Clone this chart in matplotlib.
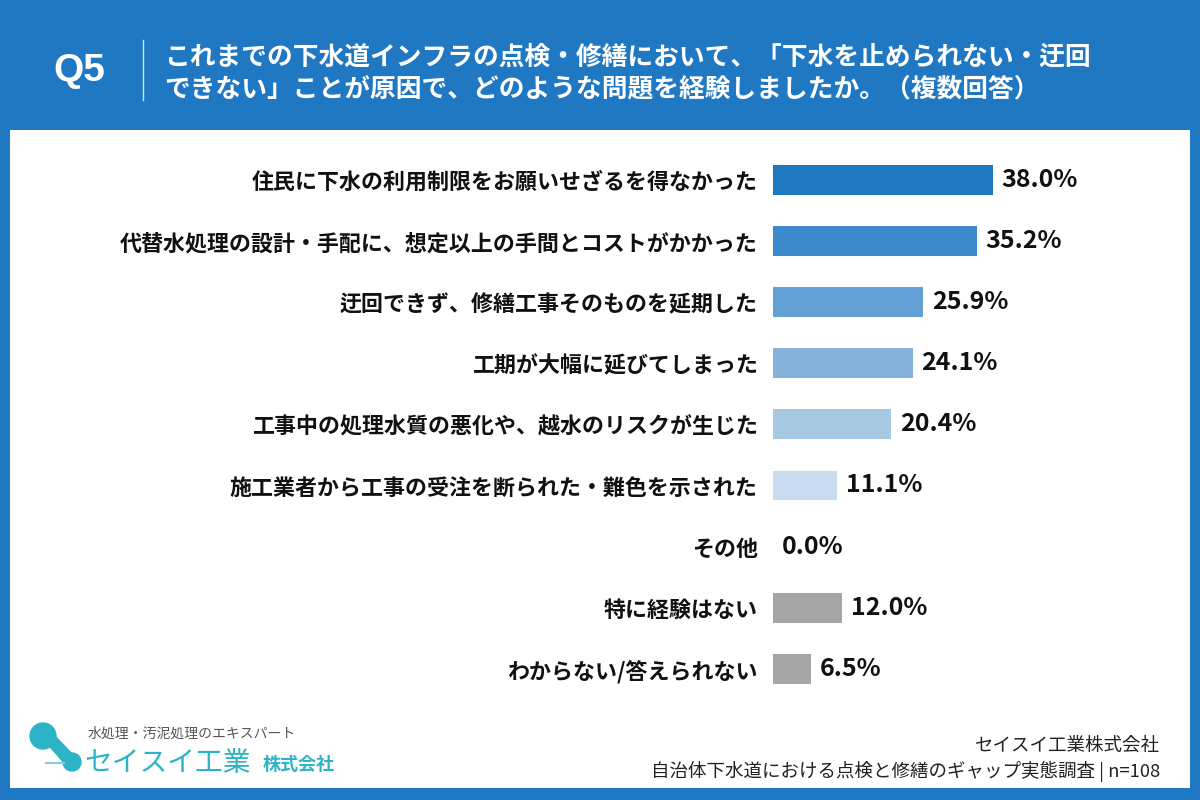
import matplotlib.pyplot as plt
from matplotlib.patches import Rectangle, Circle, Polygon

plt.rcParams['font.family'] = ['Noto Sans CJK JP', 'DejaVu Sans']

# ---- data ----
labels = [
    "住民に下水の利用制限をお願いせざるを得なかった",
    "代替水処理の設計・手配に、想定以上の手間とコストがかかった",
    "迂回できず、修繕工事そのものを延期した",
    "工期が大幅に延びてしまった",
    "工事中の処理水質の悪化や、越水のリスクが生じた",
    "施工業者から工事の受注を断られた・難色を示された",
    "その他",
    "特に経験はない",
    "わからない/答えられない",
]
values = [38.0, 35.2, 25.9, 24.1, 20.4, 11.1, 0.0, 12.0, 6.5]
bar_colors = ["#1f77c0", "#3d8bcd", "#62a0d5", "#86b3dc", "#a7c9e2",
              "#c9dcef", "#a6a6a6", "#a6a6a6", "#a6a6a6"]

title_lines = ["これまでの下水道インフラの点検・修繕において、「下水を止められない・迂回",
               "できない」ことが原因で、どのような問題を経験しましたか。（複数回答）"]
source_lines = ["セイスイ工業株式会社",
                "自治体下水道における点検と修繕のギャップ実態調査 | n=108"]

BLUE = "#1f78c1"
TEAL = "#2cb4c6"

fig = plt.figure(figsize=(12, 8), dpi=100)
fig.patch.set_facecolor(BLUE)

W, H = 1200, 800
def fx(px): return px / W
def fy(py): return 1 - py / H

# white panel
fig.patches.append(Rectangle((fx(10), fy(788)), fx(1180), (788 - 130) / H,
                             transform=fig.transFigure, facecolor="white",
                             edgecolor="none", zorder=-5))

# header
fig.text(fx(53), fy(71), "Q5", color="white", fontsize=28, fontweight="bold",
         va="center", ha="left", family=["Liberation Sans", "DejaVu Sans"])
fig.add_artist(plt.Line2D([fx(143), fx(143)], [fy(40), fy(100)],
                          color="white", lw=1, alpha=0.8))
fig.text(fx(164), fy(57), title_lines[0], color="white", fontsize=18.5,
         fontweight="bold", va="center", ha="left")
fig.text(fx(164), fy(89), title_lines[1], color="white", fontsize=18.5,
         fontweight="bold", va="center", ha="left")

# ---- bars ----
row_h = 61.1
top = 180 - row_h / 2
n = len(values)
ax = fig.add_axes([fx(773), fy(top + n * row_h), fx(1180 - 773), n * row_h / H])
ax.set_facecolor("none")
px_per_pct = 220 / 38.0
ax.set_xlim(0, (1180 - 773) / px_per_pct)
ax.set_ylim(n - 0.5, -0.5)
y = list(range(n))
ax.barh(y, values, height=0.49, color=bar_colors, edgecolor="none")
for yi, v in zip(y, values):
    ax.text(v + 1.5, yi, f"{v:.1f}%", va="center", ha="left",
            fontsize=18, fontweight="bold", color="#111111")
ax.set_xticks([])
ax.set_yticks(y)
ax.set_yticklabels(labels, fontsize=15.8, fontweight="bold", color="#111111")
ax.tick_params(axis="y", length=0, pad=11)
for s in ax.spines.values():
    s.set_visible(False)

# ---- logo ----
logo = fig.add_axes([0, 0, 1, 1], zorder=5)
logo.set_xlim(0, W)
logo.set_ylim(H, 0)
logo.axis("off")
logo.add_patch(Circle((43, 736), 13, color=TEAL))
logo.add_patch(Polygon([(44, 740), (52, 733), (74, 756), (66, 765)], closed=True, color=TEAL))
logo.add_patch(Circle((72, 762), 9, color=TEAL))
logo.plot([46, 64], [763, 763], color="#7fd0da", lw=1.5)
logo.text(88, 734, "水処理・汚泥処理のエキスパート", fontsize=10, color="#555555",
          va="center", ha="left")
logo.text(84, 763, "セイスイ工業", fontsize=20, color=TEAL, va="center", ha="left")
logo.text(263, 765, "株式会社", fontsize=13, color=TEAL, va="center", ha="left",
          fontweight="bold")

# source
logo.text(1160, 746, source_lines[0], fontsize=13.3, color="#222222", va="center", ha="right")
logo.text(1160, 771, source_lines[1], fontsize=13.3, color="#222222", va="center", ha="right")

fig.savefig("out.png", dpi=100, facecolor=fig.get_facecolor())
